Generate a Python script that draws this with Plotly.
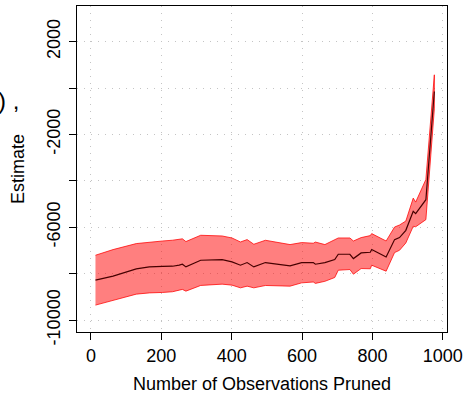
import plotly.graph_objects as go

# Data
pruned = [13, 63, 129, 166, 204, 232, 251, 260, 270, 312, 373, 401, 425, 444, 463, 496,
          566, 599, 632, 638, 665, 693, 703, 736, 746, 768, 794, 798, 839, 863, 877, 895,
          916, 923, 952, 976]
estimate = [-8281, -8110, -7795, -7710, -7690, -7680, -7630, -7594, -7710, -7422, -7393,
            -7495, -7637, -7522, -7710, -7522, -7665, -7522, -7522, -7594, -7522, -7393,
            -7165, -7165, -7350, -7108, -7080, -6963, -7279, -6533, -6447, -6133, -5316,
            -5416, -4814, -148]
upper = [-7208, -6963, -6705, -6640, -6593, -6560, -6533, -6500, -6618, -6347, -6377,
         -6463, -6635, -6533, -6734, -6562, -6748, -6662, -6690, -6640, -6748, -6562,
         -6463, -6463, -6593, -6447, -6361, -6275, -6593, -5991, -5905, -5733, -4745,
         -4917, -3942, 569]
lower = [-9356, -9141, -8883, -8830, -8810, -8780, -8711, -8680, -8754, -8509, -8453,
         -8496, -8612, -8540, -8612, -8510, -8539, -8397, -8360, -8420, -8330, -8166,
         -7852, -7823, -8024, -7780, -7790, -7637, -7895, -7092, -6993, -6677, -5960,
         -5980, -5673, -900]

x_ticks = [0, 200, 400, 600, 800, 1000]
y_ticks = [2000, 0, -2000, -4000, -6000, -8000, -10000]
y_ticktext = ["2000", "", "-2000", "", "-6000", "", "-10000"]

FONT = "Liberation Sans, Arial, Helvetica, sans-serif"
GRID = dict(showgrid=True, gridcolor="#c4c4c4", griddash="1px,6px", gridwidth=1)

fig = go.Figure()

fig.add_trace(go.Scatter(
    x=pruned + pruned[::-1],
    y=upper + lower[::-1],
    fill="toself",
    fillcolor="rgba(255,0,0,0.5)",
    line=dict(color="rgba(255,0,0,0.75)", width=1),
    mode="lines",
    hoverinfo="skip",
    showlegend=False,
))

fig.add_trace(go.Scatter(
    x=pruned, y=estimate, mode="lines",
    line=dict(color="rgb(70,0,0)", width=1.2),
    showlegend=False,
))

fig.add_annotation(
    text=") ,", xref="paper", yref="paper",
    x=(-5 - 77) / 373, y=1 - (100 - 5) / 327,
    xanchor="left", yanchor="middle", showarrow=False,
    font=dict(family=FONT, size=24, color="black"),
)

fig.update_layout(
    width=468, height=399,
    margin=dict(l=77, r=18, t=5, b=67),
    paper_bgcolor="white", plot_bgcolor="white",
    font=dict(family=FONT, size=18, color="black"),
    xaxis=dict(
        range=[-39.5, 1012],
        tickvals=x_ticks, ticktext=[str(v) for v in x_ticks],
        ticks="outside", ticklen=7, tickwidth=1, tickcolor="black",
        showline=True, linecolor="black", linewidth=1, mirror=True,
        zeroline=False,
        title=dict(text="Number of Observations Pruned", font=dict(size=18), standoff=12),
        tickfont=dict(size=18),
        **GRID,
    ),
    yaxis=dict(
        range=[-10515, 3534],
        tickvals=y_ticks, ticktext=y_ticktext,
        tickangle=-90,
        ticks="outside", ticklen=7, tickwidth=1, tickcolor="black",
        showline=True, linecolor="black", linewidth=1, mirror=True,
        zeroline=False,
        ticklabelstandoff=2,
        title=dict(text="Estimate", font=dict(size=18), standoff=14),
        tickfont=dict(size=18),
        **GRID,
    ),
)

fig.write_html("out.html")
